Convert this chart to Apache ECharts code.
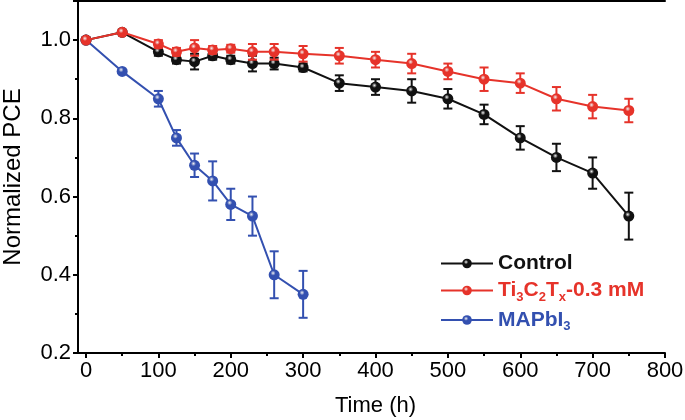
<!DOCTYPE html>
<html>
  <head>
    <meta charset="utf-8">
    <title>Normalized PCE</title>
    <style>
      html, body { margin: 0; padding: 0; background: #fff; }
      #chart { width: 685px; height: 420px; }
    </style>
  </head>
  <body>
    <div id="chart"></div>
    <script src="https://cdn.jsdelivr.net/npm/echarts@6/dist/echarts.min.js"></script>
    <script>
      // Data
      var tControl = [0, 50, 100, 125, 150, 175, 200, 230, 260, 300, 350, 400, 450, 500, 550, 600, 650, 700, 750];
      var control = [1.0, 1.02, 0.97, 0.95, 0.945, 0.96, 0.95, 0.94, 0.94, 0.93, 0.89, 0.88, 0.87, 0.85, 0.81, 0.75, 0.70, 0.66, 0.55];
      var controlErr = [0, 0, 0.01, 0.01, 0.02, 0.01, 0.01, 0.02, 0.015, 0.01, 0.02, 0.02, 0.03, 0.025, 0.025, 0.03, 0.035, 0.04, 0.06];

      var tTi = [0, 50, 100, 125, 150, 175, 200, 230, 260, 300, 350, 400, 450, 500, 550, 600, 650, 700, 750];
      var ti = [1.0, 1.02, 0.99, 0.97, 0.98, 0.975, 0.978, 0.97, 0.97, 0.965, 0.96, 0.95, 0.94, 0.92, 0.90, 0.89, 0.85, 0.83, 0.82];
      var tiErr = [0, 0, 0.01, 0.01, 0.02, 0.01, 0.01, 0.02, 0.02, 0.02, 0.02, 0.02, 0.025, 0.02, 0.03, 0.025, 0.03, 0.03, 0.03];

      var tMa = [0, 50, 100, 125, 150, 175, 200, 230, 260, 300];
      var mapbi = [1.0, 0.92, 0.85, 0.75, 0.68, 0.64, 0.58, 0.55, 0.40, 0.35];
      var mapbiErr = [0, 0, 0.02, 0.02, 0.03, 0.05, 0.04, 0.05, 0.06, 0.06];

      var BLACK = '#111111';
      var RED = '#e6332a';
      var BLUE = '#3350b0';
      var FONT = '"Liberation Sans Narrow", "Arial Narrow", "Liberation Sans", Arial, sans-serif';
      var BOLD = '"Liberation Sans", Arial, sans-serif';

      function pts(xs, ys) {
        return xs.map(function (x, i) { return [x, ys[i]]; });
      }
      function errPts(xs, ys, es) {
        return xs.map(function (x, i) { return [x, ys[i] - es[i], ys[i] + es[i]]; });
      }
      function ball(c) {
        return {
          type: 'radial', x: 0.4, y: 0.35, r: 0.65,
          colorStops: [
            { offset: 0, color: '#f2f2f2' },
            { offset: 0.35, color: c },
            { offset: 1, color: c }
          ]
        };
      }

      function lineSeries(name, data, color, z) {
        return {
          name: name,
          type: 'line',
          xAxisIndex: 2,
          yAxisIndex: 2,
          data: data,
          z: z,
          symbol: 'circle',
          symbolSize: 11,
          showAllSymbol: true,
          animation: false,
          lineStyle: { color: color, width: 2 },
          itemStyle: { color: ball(color), borderWidth: 0 }
        };
      }

      function errSeries(data, color, z) {
        return {
          type: 'custom',
          xAxisIndex: 2,
          yAxisIndex: 2,
          data: data,
          z: z,
          silent: true,
          animation: false,
          renderItem: function (params, api) {
            if (api.value(2) - api.value(1) < 1e-6) return null;
            var lo = api.coord([api.value(0), api.value(1)]);
            var hi = api.coord([api.value(0), api.value(2)]);
            var w = 4.5;
            var st = { stroke: color, lineWidth: 2 };
            return {
              type: 'group',
              children: [
                { type: 'line', shape: { x1: lo[0], y1: lo[1], x2: hi[0], y2: hi[1] }, style: st },
                { type: 'line', shape: { x1: lo[0] - w, y1: lo[1], x2: lo[0] + w, y2: lo[1] }, style: st },
                { type: 'line', shape: { x1: hi[0] - w, y1: hi[1], x2: hi[0] + w, y2: hi[1] }, style: st }
              ]
            };
          }
        };
      }

      var chart = echarts.init(document.getElementById('chart'));
      var axisLine = { show: true, lineStyle: { color: '#000', width: 2 } };
      var none = { show: false };

      chart.setOption({
        backgroundColor: '#fff',
        animation: false,
        textStyle: { fontFamily: FONT },
        grid: [
          { left: 78, right: 20, top: 1, bottom: 67, outerBoundsMode: 'none' },   // frame
          { left: 86, right: 20, top: 1, bottom: 67, outerBoundsMode: 'none' }    // data
        ],
        xAxis: [
          { gridIndex: 0, type: 'value', min: 0, max: 1, position: 'bottom', axisLine: axisLine,
            axisTick: none, axisLabel: none, splitLine: none },
          { gridIndex: 0, type: 'value', min: 0, max: 1, position: 'top', axisLine: axisLine,
            axisTick: none, axisLabel: none, splitLine: none },
          { gridIndex: 1, type: 'value', min: 0, max: 800, interval: 100, position: 'bottom',
            name: 'Time (h)', nameLocation: 'middle', nameGap: 42,
            nameTextStyle: { fontSize: 22, color: '#000', fontFamily: FONT },
            axisLine: none,
            axisTick: { show: true, inside: false, length: 5, lineStyle: { color: '#000', width: 2 } },
            minorTick: { show: true, splitNumber: 2, length: 3, lineStyle: { color: '#000', width: 2 } },
            axisLabel: { fontSize: 22, color: '#000', margin: 7, fontFamily: FONT },
            splitLine: none }
        ],
        yAxis: [
          { gridIndex: 0, type: 'value', min: 0.2, max: 1.1, interval: 0.2, position: 'left',
            name: 'Normalized PCE', nameLocation: 'middle', nameGap: 53,
            nameTextStyle: { fontSize: 24, color: '#000', fontFamily: FONT },
            axisLine: axisLine,
            axisTick: { show: true, inside: false, length: 5, lineStyle: { color: '#000', width: 2 } },
            minorTick: { show: true, splitNumber: 2, length: 3, lineStyle: { color: '#000', width: 2 } },
            axisLabel: { fontSize: 22, color: '#000', margin: 7, fontFamily: FONT, showMaxLabel: false,
              formatter: function (v) { return v.toFixed(1); } },
            splitLine: none },
          { gridIndex: 0, type: 'value', min: 0.2, max: 1.1, position: 'right', axisLine: axisLine,
            axisTick: none, axisLabel: none, splitLine: none },
          { gridIndex: 1, type: 'value', min: 0.2, max: 1.1, show: false }
        ],
        legend: {
          orient: 'vertical',
          left: 435,
          top: 248,
          itemWidth: 52,
          itemHeight: 12,
          itemGap: 6,
          selectedMode: false,
          textStyle: { fontFamily: BOLD, fontWeight: 'bold', fontSize: 21 },
          data: [
            { name: 'Control', textStyle: { color: BLACK } },
            { name: 'Ti', textStyle: { color: RED, rich: {
              b: { color: RED, fontFamily: BOLD, fontWeight: 'bold', fontSize: 21 },
              s: { color: RED, fontFamily: BOLD, fontWeight: 'bold', fontSize: 13, padding: [13, 0, 0, 0] } } } },
            { name: 'MA', textStyle: { color: BLUE, rich: {
              b: { color: BLUE, fontFamily: BOLD, fontWeight: 'bold', fontSize: 21 },
              s: { color: BLUE, fontFamily: BOLD, fontWeight: 'bold', fontSize: 13, padding: [13, 0, 0, 0] } } } }
          ],
          formatter: function (name) {
            if (name === 'Ti') return '{b|Ti}{s|3}{b|C}{s|2}{b|T}{s|x}{b|-0.3 mM}';
            if (name === 'MA') return '{b|MAPbI}{s|3}';
            return name;
          }
        },
        series: [
          errSeries(errPts(tMa, mapbi, mapbiErr), BLUE, 2),
          lineSeries('MA', pts(tMa, mapbi), BLUE, 3),
          errSeries(errPts(tControl, control, controlErr), BLACK, 4),
          lineSeries('Control', pts(tControl, control), BLACK, 5),
          errSeries(errPts(tTi, ti, tiErr), RED, 6),
          lineSeries('Ti', pts(tTi, ti), RED, 7)
        ]
      });
    </script>
  </body>
</html>
